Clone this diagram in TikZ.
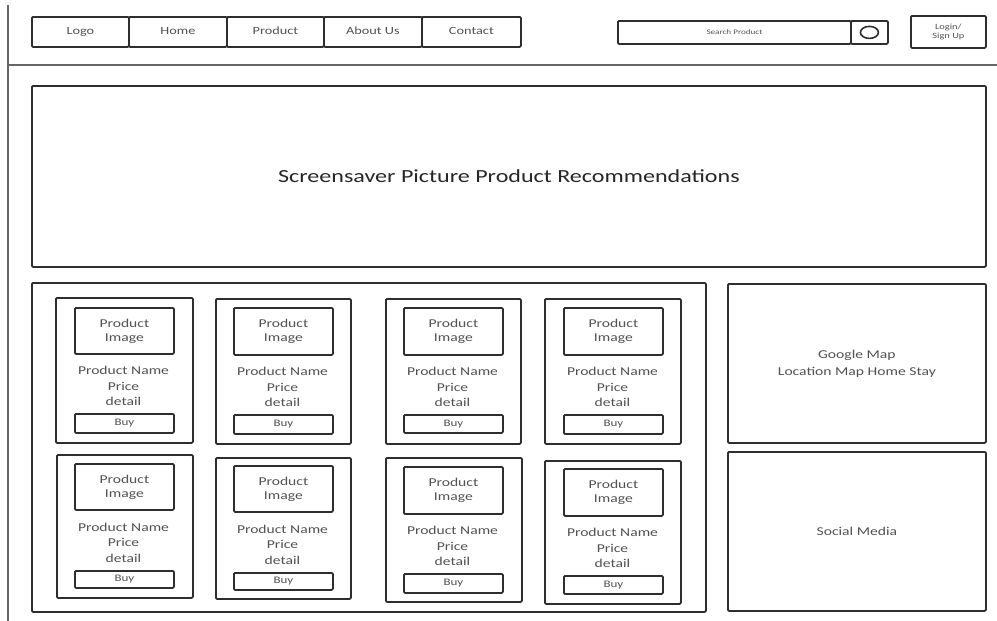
\documentclass[tikz,border=0pt]{standalone}
\usepackage{fontspec}
\setmainfont{Carlito}
\newfontfamily\wf[FakeStretch=1.3]{Carlito}
\usetikzlibrary{shapes.geometric}
\tikzset{
  wire/.style={draw=black!82, line width=1.8pt, rounded corners=1.2pt},
  box/.style={wire, rectangle, anchor=north west, inner sep=0pt, text=black!68, align=center,
    font=\wf\fontsize{12}{15.5}\selectfont},
  navtext/.style={font=\wf\fontsize{11}{13}\selectfont, text height=7.5pt, text depth=2.2pt},
  buytext/.style={font=\wf\fontsize{10}{12}\selectfont, text height=6.8pt, text depth=2pt},
  imgtext/.style={font=\wf\fontsize{12}{14}\selectfont},
  bigtext/.style={font=\wf\fontsize{18.5}{22}\selectfont, text=black!85},
  frame/.style={draw=black!60, line width=2pt},
}
% optional style, name, x1, y1, x2, y2, text
\newcommand\wbox[7][]{\node[box,#1,minimum width={#5-#3},minimum height={#6-#4}] (#2) at (#3,#4) {#7};}
\begin{document}
\begin{tikzpicture}[x=1pt,y=-1pt]
\useasboundingbox[fill=white] (0,0) rectangle (997,621);
% page frame lines
\coordinate (vtop) at (8,5);
\coordinate (vbot) at (8,621);
\coordinate (hl) at (8,65);
\coordinate (hr) at (997,65);
\draw[frame] (vtop) -- (vbot);
\draw[frame, line width=2.4pt] (hl) -- (hr);
% navigation
\wbox[navtext]{logo}{31}{16}{128}{46}{Logo}
\wbox[navtext]{home}{128}{16}{226}{46}{Home}
\wbox[navtext]{product}{226}{16}{323}{46}{Product}
\wbox[navtext]{about}{323}{16}{421}{46}{About Us}
\wbox[navtext]{contact}{421}{16}{520}{46}{Contact}
% search
\wbox[font=\wf\fontsize{7}{8}\selectfont]{search}{617}{20}{850}{43}{Search Product}
\wbox{searchbtn}{850}{20}{887}{43}{}
\node[draw=black!82, line width=1.6pt, ellipse, minimum width=18, minimum height=12, inner sep=0pt] (searchicon) at (searchbtn.center) {};
\wbox[font=\wf\fontsize{8}{9.5}\selectfont]{login}{910}{15}{985}{47}{Login/\\Sign Up}
% banner
\wbox[bigtext]{banner}{31}{85}{985}{266}{Screensaver Picture Product Recommendations}
% products container
\wbox{products}{31}{282}{705}{611}{}
% side boxes
\wbox{gmap}{727}{283}{985}{442}{Google Map\\[1.5pt]Location Map Home Stay}
\wbox{social}{727}{451}{985}{610}{Social Media}
% cards
\foreach \n/\cx/\cy/\cxx/\cyy/\ix/\iy/\iyy/\by/\byy in {
  c1/55/297/192/442/74/307/353/413/432,
  c2/215/298/350/443/233/307/354/414/433,
  c3/385/298/520/443/403/307/354/414/432,
  c4/544/298/680/443/563/307/354/414/433,
  c5/56/454/192/597/74/463/509/570/587,
  c6/215/457/350/598/233/465/511/572/589,
  c7/385/457/521/601/403/466/513/573/592,
  c8/544/460/680/603/563/468/515/575/593}{
  \wbox{\n}{\cx}{\cy}{\cxx}{\cyy}{}
  \wbox[imgtext]{\n img}{\ix}{\iy}{\ix+99}{\iyy}{Product\\Image}
  \wbox[buytext]{\n buy}{\ix}{\by}{\ix+99}{\byy}{Buy}
  \pgfmathsetmacro\tm{(\iyy+\by)/2+3}
  \node[align=center, text=black!68, font=\wf\fontsize{12}{15.5}\selectfont, inner sep=0pt] (\n txt) at ({\ix+49.5},\tm) {Product Name\\Price\\detail};
}
\end{tikzpicture}
\end{document}
